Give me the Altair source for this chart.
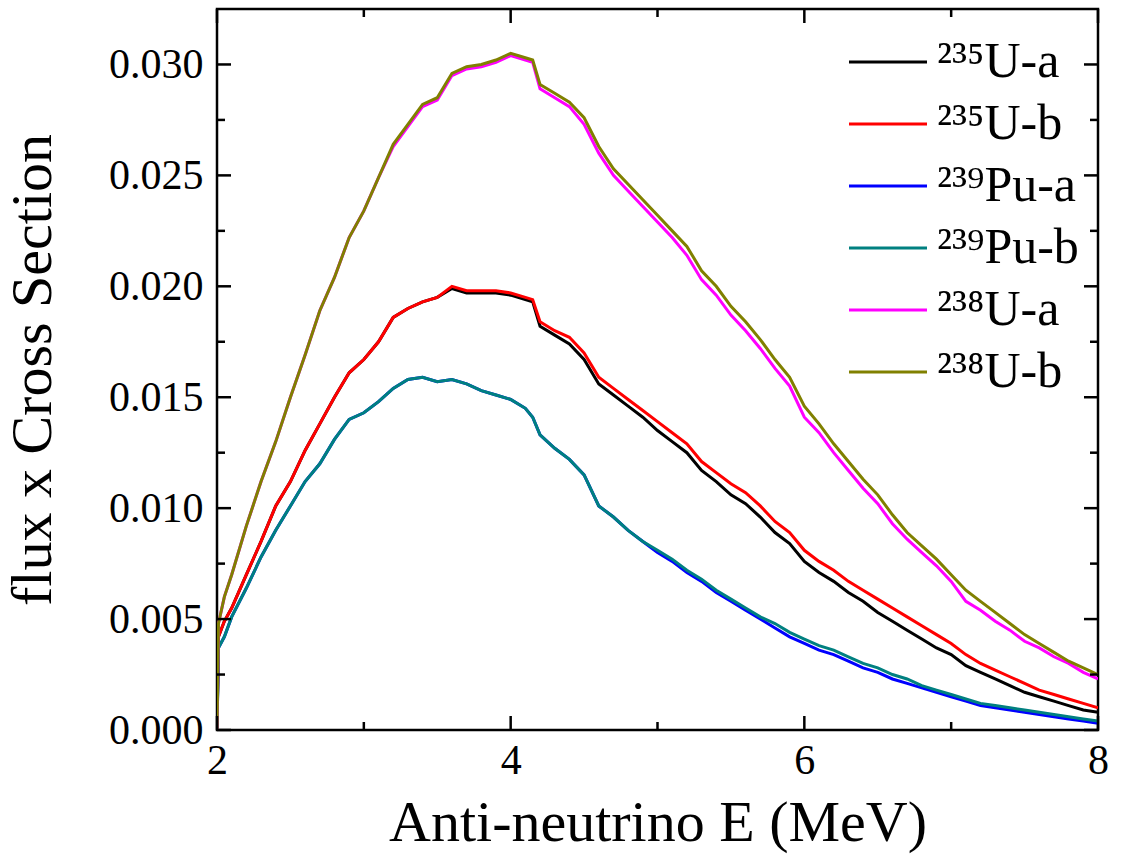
import altair as alt
import pandas as pd

# Energy grid (MeV)
E = [2.0, 2.01, 2.05, 2.1, 2.2, 2.3, 2.4, 2.5, 2.6, 2.7,
     2.8, 2.9, 3.0, 3.1, 3.2, 3.3, 3.4, 3.5, 3.6, 3.7,
     3.8, 3.9, 4.0, 4.1, 4.15, 4.2, 4.3, 4.4, 4.5, 4.6,
     4.7, 4.8, 4.9, 5.0, 5.1, 5.2, 5.3, 5.4, 5.5, 5.6,
     5.7, 5.8, 5.9, 6.0, 6.1, 6.2, 6.3, 6.4, 6.5, 6.6,
     6.7, 6.8, 6.9, 7.0, 7.1, 7.2, 7.3, 7.4, 7.5, 7.6,
     7.7, 7.8, 7.9, 8.0]

u235_a = [0, 0.0042, 0.0049, 0.0055, 0.0070, 0.0085, 0.0101, 0.0112, 0.0126, 0.0138,
          0.0150, 0.0161, 0.0167, 0.0175, 0.0186, 0.0190, 0.0193, 0.0195, 0.0199, 0.0197,
          0.0197, 0.0197, 0.0196, 0.0194, 0.0193, 0.0182, 0.0178, 0.0174, 0.0167, 0.0156,
          0.0151, 0.0146, 0.0141, 0.0135, 0.0130, 0.0125, 0.0117, 0.0112, 0.0106, 0.0102,
          0.0096, 0.0089, 0.0084, 0.0076, 0.0071, 0.0067, 0.0062, 0.0058, 0.0053, 0.0049,
          0.0045, 0.0041, 0.0037, 0.0034, 0.0029, 0.0026, 0.0023, 0.0020, 0.0017, 0.0015,
          0.0013, 0.0011, 0.0009, 0.0008]
u235_b = [0, 0.0042, 0.0049, 0.0055, 0.0070, 0.0085, 0.0101, 0.0112, 0.0126, 0.0138,
          0.0150, 0.0161, 0.0167, 0.0175, 0.0186, 0.0190, 0.0193, 0.0195, 0.0200, 0.0198,
          0.0198, 0.0198, 0.0197, 0.0195, 0.0194, 0.0184, 0.0180, 0.0177, 0.0170, 0.0159,
          0.0154, 0.0149, 0.0144, 0.0139, 0.0134, 0.0129, 0.0121, 0.0116, 0.0111, 0.0107,
          0.0101, 0.0094, 0.0089, 0.0081, 0.0076, 0.0072, 0.0067, 0.0063, 0.0059, 0.0055,
          0.0051, 0.0047, 0.0043, 0.0039, 0.0034, 0.0030, 0.0027, 0.0024, 0.0021, 0.0018,
          0.0016, 0.0014, 0.0012, 0.0010]
pu239_a = [0, 0.0037, 0.0042, 0.0051, 0.0064, 0.0078, 0.0090, 0.0101, 0.0112, 0.0120,
           0.0131, 0.0140, 0.0143, 0.0148, 0.0154, 0.0158, 0.0159, 0.0157, 0.0158, 0.0156,
           0.0153, 0.0151, 0.0149, 0.0145, 0.0141, 0.0133, 0.0127, 0.0122, 0.0115, 0.0101,
           0.0096, 0.0090, 0.0085, 0.0080, 0.0076, 0.0071, 0.0067, 0.0062, 0.0058, 0.0054,
           0.0050, 0.0046, 0.0042, 0.0039, 0.0036, 0.0034, 0.0031, 0.0028, 0.0026, 0.0023,
           0.0021, 0.0019, 0.0017, 0.0015, 0.0013, 0.0011, 0.0010, 0.0009, 0.0008, 0.0007,
           0.0006, 0.0005, 0.0004, 0.0003]
pu239_b = [0, 0.0037, 0.0042, 0.0051, 0.0064, 0.0078, 0.0090, 0.0101, 0.0112, 0.0120,
           0.0131, 0.0140, 0.0143, 0.0148, 0.0154, 0.0158, 0.0159, 0.0157, 0.0158, 0.0156,
           0.0153, 0.0151, 0.0149, 0.0145, 0.0141, 0.0133, 0.0127, 0.0122, 0.0115, 0.0101,
           0.0096, 0.0090, 0.0085, 0.0081, 0.0077, 0.0072, 0.0068, 0.0063, 0.0059, 0.0055,
           0.0051, 0.0048, 0.0044, 0.0041, 0.0038, 0.0036, 0.0033, 0.0030, 0.0028, 0.0025,
           0.0023, 0.0020, 0.0018, 0.0016, 0.0014, 0.0012, 0.0011, 0.0010, 0.0009, 0.0008,
           0.0007, 0.0006, 0.0005, 0.0004]
u238_a = [0, 0.0048, 0.0060, 0.0070, 0.0092, 0.0112, 0.0130, 0.0150, 0.0169, 0.0189,
          0.0204, 0.0222, 0.0234, 0.0249, 0.0263, 0.0272, 0.0281, 0.0284, 0.0295, 0.0298,
          0.0299, 0.0301, 0.0304, 0.0302, 0.0301, 0.0289, 0.0285, 0.0281, 0.0273, 0.0260,
          0.0250, 0.0243, 0.0236, 0.0229, 0.0222, 0.0214, 0.0203, 0.0196, 0.0187, 0.0180,
          0.0172, 0.0163, 0.0155, 0.0141, 0.0134, 0.0125, 0.0117, 0.0109, 0.0102, 0.0093,
          0.0086, 0.0080, 0.0074, 0.0067, 0.0058, 0.0054, 0.0049, 0.0045, 0.0040, 0.0037,
          0.0033, 0.0030, 0.0026, 0.0023]
u238_b = [0, 0.0048, 0.0060, 0.0070, 0.0092, 0.0112, 0.0130, 0.0150, 0.0169, 0.0189,
          0.0204, 0.0222, 0.0234, 0.0249, 0.0264, 0.0273, 0.0282, 0.0285, 0.0296, 0.0299,
          0.0300, 0.0302, 0.0305, 0.0303, 0.0302, 0.0291, 0.0287, 0.0283, 0.0276, 0.0263,
          0.0253, 0.0246, 0.0239, 0.0232, 0.0225, 0.0218, 0.0207, 0.0200, 0.0191, 0.0184,
          0.0176, 0.0167, 0.0159, 0.0146, 0.0138, 0.0129, 0.0121, 0.0113, 0.0106, 0.0097,
          0.0089, 0.0083, 0.0077, 0.0070, 0.0063, 0.0058, 0.0053, 0.0048, 0.0043, 0.0039,
          0.0035, 0.0031, 0.0028, 0.0025]

series_names = ["²³⁵U-a", "²³⁵U-b", "²³⁹Pu-a", "²³⁹Pu-b", "²³⁸U-a", "²³⁸U-b"]
series_values = [u235_a, u235_b, pu239_a, pu239_b, u238_a, u238_b]
series_colors = ["#000000", "#ff0000", "#0000ff", "#008080", "#ff00ff", "#808000"]

x_major = [2, 4, 6, 8]
x_minor = [3, 5, 7]
y_major = [0.0, 0.005, 0.010, 0.015, 0.020, 0.025, 0.030]
y_minor = [0.0025, 0.0075, 0.0125, 0.0175, 0.0225, 0.0275]

W, H = 881, 721
FONT = "Liberation Serif"

rows = []
for name, vals in zip(series_names, series_values):
    for e, v in zip(E, vals):
        rows.append({"E": e, "value": v, "series": name})
df = pd.DataFrame(rows)

xscale = alt.Scale(domain=[2, 8], nice=False, zero=False)
yscale = alt.Scale(domain=[0, 0.0325], nice=False)
xaxis = alt.Axis(values=x_major, format="d", title="Anti-neutrino E (MeV)", labelFlush=False)
yaxis = alt.Axis(values=y_major, format=".3f", title="flux x Cross Section", labelFlush=False)

lines = alt.Chart(df).mark_line(strokeWidth=3, clip=True).encode(
    x=alt.X("E:Q", scale=xscale, axis=xaxis),
    y=alt.Y("value:Q", scale=yscale, axis=yaxis),
    color=alt.Color("series:N",
                    scale=alt.Scale(domain=series_names, range=series_colors),
                    sort=series_names,
                    legend=alt.Legend(title=None, orient="none", legendX=646, legendY=28,
                                      symbolType="M-2,0H2", symbolSize=1521,
                                      symbolStrokeWidth=3, symbolFillColor="transparent",
                                      labelFont=FONT,
                                      labelFontSize=50, labelLimit=400, labelOffset=24,
                                      rowPadding=12, labelColor="black")),
)


def yticks(values, length, side):
    d = pd.DataFrame({"v": values})
    if side == "left":
        xa, xb = alt.value(0), alt.value(length)
    else:
        xa, xb = alt.value(W - length), alt.value(W)
    return alt.Chart(d).mark_rule(color="black", strokeWidth=2.5).encode(
        y=alt.Y("v:Q", scale=yscale, axis=yaxis), x=xa, x2=xb)


def xticks(values, length, side):
    d = pd.DataFrame({"v": values})
    if side == "bottom":
        ya, yb = alt.value(H - length), alt.value(H)
    else:
        ya, yb = alt.value(0), alt.value(length)
    return alt.Chart(d).mark_rule(color="black", strokeWidth=2.5).encode(
        x=alt.X("v:Q", scale=xscale, axis=xaxis), y=ya, y2=yb)


ticks = [
    yticks(y_major, 14, "left"), yticks(y_minor, 8, "left"),
    yticks(y_major, 14, "right"), yticks(y_minor, 8, "right"),
    xticks(x_major, 14, "bottom"), xticks(x_minor, 8, "bottom"),
    xticks(x_major, 14, "top"), xticks(x_minor, 8, "top"),
]

chart = alt.layer(lines, *ticks).properties(
    width=W, height=H,
    autosize=alt.AutoSizeParams(type="none"),
    padding={"left": 217, "top": 9, "right": 26, "bottom": 135},
).configure_view(
    stroke="black", strokeWidth=2.5
).configure_axis(
    grid=False, ticks=False, domain=False,
    labelFont=FONT, titleFont=FONT, labelColor="black", titleColor="black",
    titleFontWeight="normal",
).configure_axisX(
    labelFontSize=42, labelPadding=10, titleFontSize=58, titlePadding=13,
).configure_axisY(
    labelFontSize=42, labelPadding=14, titleFontSize=58, titlePadding=46,
)

chart.save("out.html", embed_options={"renderer": "svg", "actions": False})
